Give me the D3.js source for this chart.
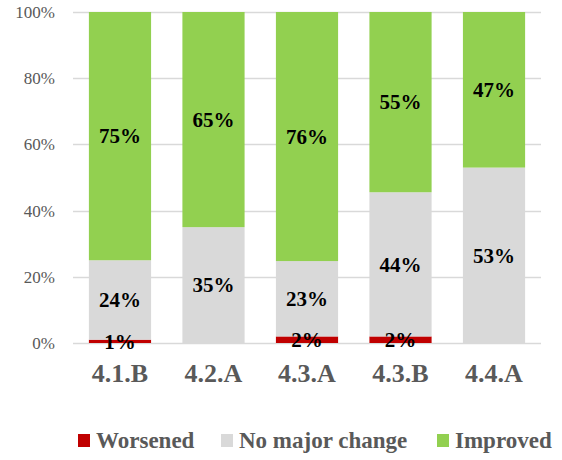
<!DOCTYPE html>
<html>
<head>
<meta charset="utf-8">
<script src="https://cdn.jsdelivr.net/npm/d3@7"></script>
<style>
  html, body { margin: 0; padding: 0; background: #fff; }
</style>
</head>
<body>
<svg id="chart" width="562" height="460"></svg>
<script>
// Outcome shares per indicator (percent)
const categories = ["4.1.B", "4.2.A", "4.3.A", "4.3.B", "4.4.A"];
const worsened = [1, 0, 2, 2, 0];
const noMajorChange = [24, 35, 23, 44, 53];
const improved = [75, 65, 76, 55, 47];
const seriesNames = ["Worsened", "No major change", "Improved"];
const seriesColors = ["#C00000", "#D9D9D9", "#92D050"];
const yTicks = [0, 20, 40, 60, 80, 100];

const FONT = "'Liberation Serif'";
const svg = d3.select("#chart");
const margin = { left: 73, right: 21, top: 12, bottom: 117 };
const W = 562, H = 460;

const x = d3.scaleBand()
  .domain(categories)
  .range([margin.left, W - margin.right])
  .paddingInner(0.335)
  .paddingOuter(0.17);

const y = d3.scaleLinear()
  .domain([0, 100])
  .range([H - margin.bottom, margin.top]);

// 100% stacked: each column normalised to its own total
const rows = categories.map((c, i) => {
  const total = worsened[i] + noMajorChange[i] + improved[i];
  return {
    cat: c,
    "Worsened": worsened[i] / total * 100,
    "No major change": noMajorChange[i] / total * 100,
    "Improved": improved[i] / total * 100,
    labels: [worsened[i], noMajorChange[i], improved[i]]
  };
});

const layers = d3.stack().keys(seriesNames)(rows);

// gridlines
svg.append("g")
  .selectAll("line")
  .data(yTicks)
  .join("line")
  .attr("x1", margin.left)
  .attr("x2", W - margin.right)
  .attr("y1", d => Math.round(y(d)) + 0.5)
  .attr("y2", d => Math.round(y(d)) + 0.5)
  .attr("stroke", "#D9D9D9")
  .attr("stroke-width", 1.5);

// y axis tick labels
const yAxis = d3.axisLeft(y).tickValues(yTicks).tickFormat(d => d + "%").tickSize(0).tickPadding(18);
const ya = svg.append("g").attr("transform", `translate(${margin.left},0)`).call(yAxis)
  .attr("font-family", FONT).attr("font-size", 17);
ya.select(".domain").remove();
ya.selectAll("text").attr("fill", "#595959");

// bars
layers.forEach((layer, si) => {
  svg.append("g")
    .attr("fill", seriesColors[si])
    .selectAll("rect")
    .data(layer)
    .join("rect")
    .attr("x", d => x(d.data.cat))
    .attr("width", x.bandwidth())
    .attr("y", d => y(d[1]))
    .attr("height", d => Math.max(0, y(d[0]) - y(d[1])));
});

// value labels centred in each segment
layers.forEach((layer, si) => {
  svg.append("g")
    .attr("font-family", FONT)
    .attr("font-size", 21)
    .attr("font-weight", "bold")
    .selectAll("text")
    .data(layer.filter(d => d.data.labels[si] > 0))
    .join("text")
    .attr("x", d => x(d.data.cat) + x.bandwidth() / 2)
    .attr("y", d => y((d[0] + d[1]) / 2))
    .attr("dy", "0.35em")
    .attr("text-anchor", "middle")
    .attr("fill", "#000")
    .text(d => d.data.labels[si] + "%");
});

// x axis category labels
const xAxis = d3.axisBottom(x).tickSize(0).tickPadding(0);
const xa = svg.append("g").attr("transform", `translate(0,${y(0)})`).call(xAxis)
  .attr("font-family", FONT).attr("font-size", 26).attr("font-weight", "bold");
xa.select(".domain").remove();
xa.selectAll("text")
  .attr("y", 39)
  .attr("dy", 0)
  .attr("fill", "#595959");

// legend
const legendX = [78, 221, 437];
const legend = svg.append("g")
  .attr("font-family", FONT).attr("font-size", 23).attr("font-weight", "bold");
seriesNames.forEach((name, i) => {
  legend.append("rect")
    .attr("x", legendX[i])
    .attr("y", 434)
    .attr("width", 12)
    .attr("height", 13)
    .attr("fill", seriesColors[i]);
  legend.append("text")
    .attr("x", legendX[i] + 18)
    .attr("y", 448)
    .attr("fill", "#595959")
    .text(name);
});
</script>
</body>
</html>
